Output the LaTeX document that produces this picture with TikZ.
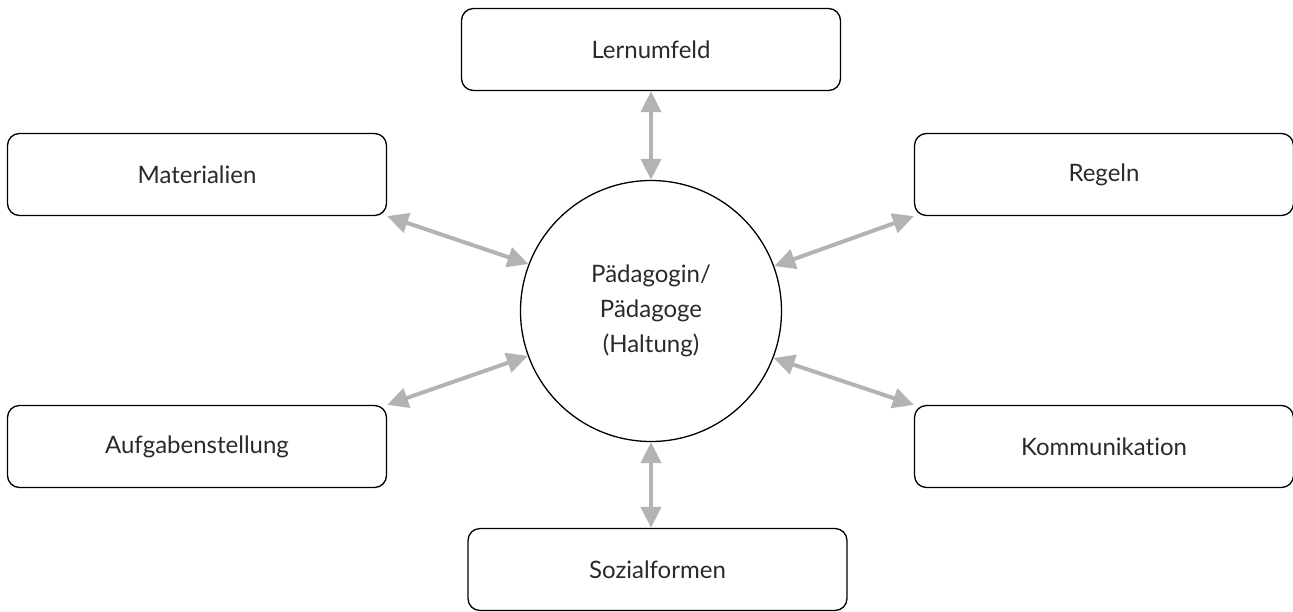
\documentclass[tikz,border=0pt]{standalone}
\usepackage{fontspec}
\setmainfont{Lato}[Ligatures={NoCommon}]
\usetikzlibrary{arrows.meta}
\definecolor{arrgray}{HTML}{B3B3B3}
\definecolor{txt}{HTML}{2A2A2A}
\begin{document}
\begin{tikzpicture}[x=1pt,y=-1pt,
  box/.style={draw=black, line width=1.3pt, rounded corners=12pt, minimum width=379pt, minimum height=82pt, inner sep=0pt, text=txt, font=\fontsize{24}{28}\selectfont},
  hub/.style={draw=black, line width=1.3pt, circle, minimum size=261pt, inner sep=0pt, text=txt, align=center, font=\fontsize{24}{35}\selectfont},
  link/.style={draw=arrgray, line width=4pt, {Triangle[length=21pt,width=20pt]}-{Triangle[length=21pt,width=20pt]}}]
\useasboundingbox (0,0) rectangle (1293,611);
\node[hub] (c) at (651,311) {Pädagogin/\\Pädagoge\\(Haltung)};
\node[box] (lern) at (651,49.5) {Lernumfeld};
\node[box] (mat) at (197,174.5) {Materialien};
\node[box] (reg) at (1104,174.5) {Regeln};
\node[box] (auf) at (197,446.5) {Aufgabenstellung};
\node[box] (kom) at (1104,446.5) {Kommunikation};
\node[box] (soz) at (657.5,569.5) {Sozialformen};
\draw[link] (lern.south) -- (c.north);
\draw[link] (c.south) -- (c.south |- soz.north);
\draw[link] (mat.south east) -- (c.159.3);
\draw[link] (reg.south west) -- (c.20.7);
\draw[link] (auf.north east) -- (c.200.7);
\draw[link] (kom.north west) -- (c.339.3);
\end{tikzpicture}
\end{document}
